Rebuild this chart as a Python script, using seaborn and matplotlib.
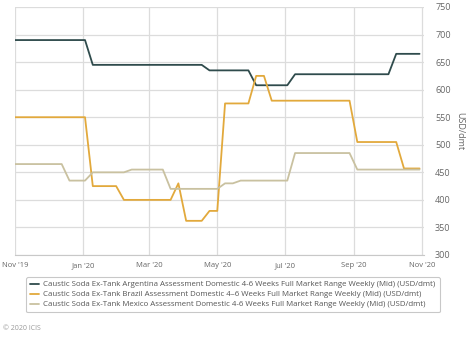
import numpy as np
import pandas as pd
import matplotlib
matplotlib.use("Agg")
import matplotlib.pyplot as plt
import seaborn as sns

# Weekly assessment dates (Fridays)
dates = pd.date_range("2019-11-01", "2020-10-30", freq="7D")

argentina = [690] * 10 + [645] * 15 + [635] * 6 + [608] * 5 + [628] * 13 + [665] * 4

brazil = ([550] * 10 + [425] * 4 + [400] * 7 + [430] + [362] * 3 + [380] * 2
          + [575] * 4 + [625] * 2 + [580] * 11 + [505] * 6 + [457] * 3)

mexico = ([465] * 7 + [435] * 3 + [450] * 5 + [455] * 5 + [420] * 7 + [430] * 2
          + [435] * 7 + [485] * 8 + [455] * 9)

series_names = [
    "Caustic Soda Ex-Tank Argentina Assessment Domestic 4-6 Weeks Full Market Range Weekly (Mid) (USD/dmt)",
    "Caustic Soda Ex-Tank Brazil Assessment Domestic 4\u20136 Weeks Full Market Range Weekly (Mid) (USD/dmt)",
    "Caustic Soda Ex-Tank Mexico Assessment Domestic 4-6 Weeks Full Market Range Weekly (Mid) (USD/dmt)",
]
colors = ["#2f4b4c", "#e2a93c", "#c9c1a0"]

y_ticks = [300, 350, 400, 450, 500, 550, 600, 650, 700, 750]
x_tick_dates = pd.to_datetime(["2019-11-01", "2020-01-01", "2020-03-01", "2020-05-01",
                               "2020-07-01", "2020-09-01", "2020-11-01"])
x_tick_labels = ["Nov '19", "Jan '20", "Mar '20", "May '20", "Jul '20", "Sep '20", "Nov '20"]

df = pd.DataFrame({
    "date": np.tile(dates, 3),
    "value": argentina + brazil + mexico,
    "series": np.repeat(series_names, len(dates)),
})

sns.set_style("white")
plt.rcParams["font.family"] = ["Open Sans", "DejaVu Sans"]

fig = plt.figure(figsize=(4.74, 3.39), dpi=100)
ax = fig.add_axes([15 / 474, 1 - 255 / 339, 409 / 474, 248 / 339])

sns.lineplot(data=df, x="date", y="value", hue="series", palette=colors,
             linewidth=1.3, ax=ax, legend=False)

ax.set_xlim(pd.Timestamp("2019-11-01"), pd.Timestamp("2020-11-03"))
ax.set_ylim(300, 750)
ax.set_xticks(x_tick_dates)
ax.set_xticklabels(x_tick_labels)
ax.set_yticks(y_ticks)
ax.yaxis.tick_right()
ax.yaxis.set_label_position("right")
ax.set_xlabel("")
ax.set_ylabel("USD/dmt", rotation=-90, labelpad=10, fontsize=6.5, color="#666666")

ax.grid(True, color="#dcdcdc", linewidth=0.9)
for s in ["top", "left", "right"]:
    ax.spines[s].set_visible(False)
ax.spines["bottom"].set_color("#c8c8c8")
ax.tick_params(axis="x", colors="#666666", labelsize=5.5, length=3, color="#c8c8c8", pad=2)
ax.tick_params(axis="y", colors="#666666", labelsize=6.5, length=0, pad=8)
for lbl in ax.get_yticklabels():
    lbl.set_horizontalalignment("left")

# Legend drawn below the axes
handles = [plt.Line2D([0], [0], color=c, linewidth=1.3) for c in colors]
leg = fig.legend(handles, series_names, loc="upper left",
                 bbox_to_anchor=(22 / 474, 1 - 273 / 339), frameon=True,
                 fontsize=5.7, handlelength=1.2, handletextpad=0.5,
                 labelspacing=0.3, borderpad=0.5, fancybox=True)
leg.get_frame().set_edgecolor("#bbbbbb")
leg.get_frame().set_linewidth(0.8)
for t in leg.get_texts():
    t.set_color("#555555")

fig.text(3 / 474, 1 - 329 / 339, "\u00a9 2020 ICIS", fontsize=5, color="#999999", va="center")

fig.savefig("out.png", dpi=100)
